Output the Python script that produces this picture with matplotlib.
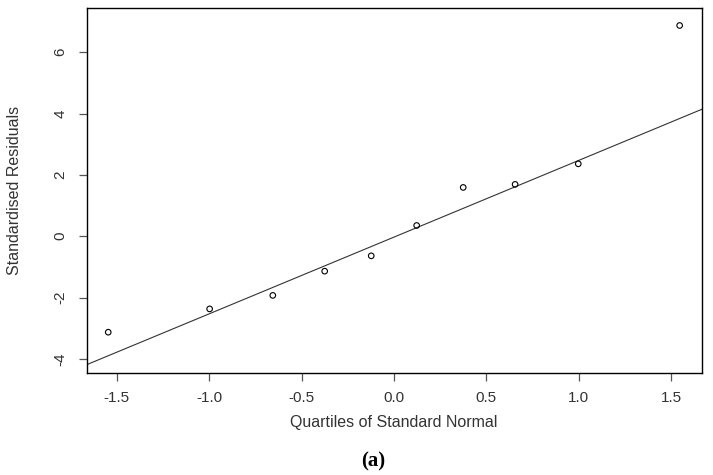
import matplotlib
matplotlib.use('Agg')
import matplotlib.pyplot as plt

# theoretical normal quantiles and standardised residuals
quantiles = [-1.547, -0.998, -0.656, -0.375, -0.123, 0.123, 0.375, 0.656, 0.998, 1.547]
residuals = [-3.13, -2.37, -1.93, -1.14, -0.64, 0.35, 1.59, 1.69, 2.36, 6.87]

# reference line (qqline)
line_intercept = -0.03
line_slope = 2.50

x_ticks = [-1.5, -1.0, -0.5, 0.0, 0.5, 1.0, 1.5]
y_ticks = [-4, -2, 0, 2, 4, 6]

plt.rcParams['font.family'] = ['Liberation Sans', 'DejaVu Sans']

fig = plt.figure(figsize=(7.13, 4.75), dpi=100)
ax = fig.add_axes([87 / 713, 1 - 373 / 475, (702 - 87) / 713, (373 - 8) / 475])

ax.scatter(quantiles, residuals, s=16, facecolors='none', edgecolors='black', linewidths=0.8, zorder=3)
ax.axline((0, line_intercept), slope=line_slope, color='#333333', linewidth=0.8)

ax.set_xlim(-1.662, 1.668)
ax.set_ylim(-4.46, 7.44)
ax.set_xticks(x_ticks)
ax.set_xticklabels([f'{v:.1f}' for v in x_ticks])
ax.set_yticks(y_ticks)
ax.set_yticklabels([str(v) for v in y_ticks], rotation=90, va='center')

ax.tick_params(axis='both', direction='out', length=6, width=0.9, color='#555555',
               labelsize=11, labelcolor='#333333')
ax.tick_params(axis='x', pad=7)
ax.tick_params(axis='y', pad=8)
for sp in ax.spines.values():
    sp.set_linewidth(1.0)
    sp.set_color('black')

fig.text(394 / 713, 1 - 423 / 475, 'Quartiles of Standard Normal', ha='center', va='center',
         fontsize=11.5, color='#333333')
fig.text(15 / 713, 1 - 190 / 475, 'Standardised Residuals', ha='center', va='center',
         rotation=90, fontsize=11.5, color='#333333')
fig.text(373 / 713, 1 - 461 / 475, '(a)', ha='center', va='center', fontsize=15,
         fontweight='bold', family=['Liberation Serif', 'DejaVu Serif'])

fig.savefig('out.png', dpi=100)
